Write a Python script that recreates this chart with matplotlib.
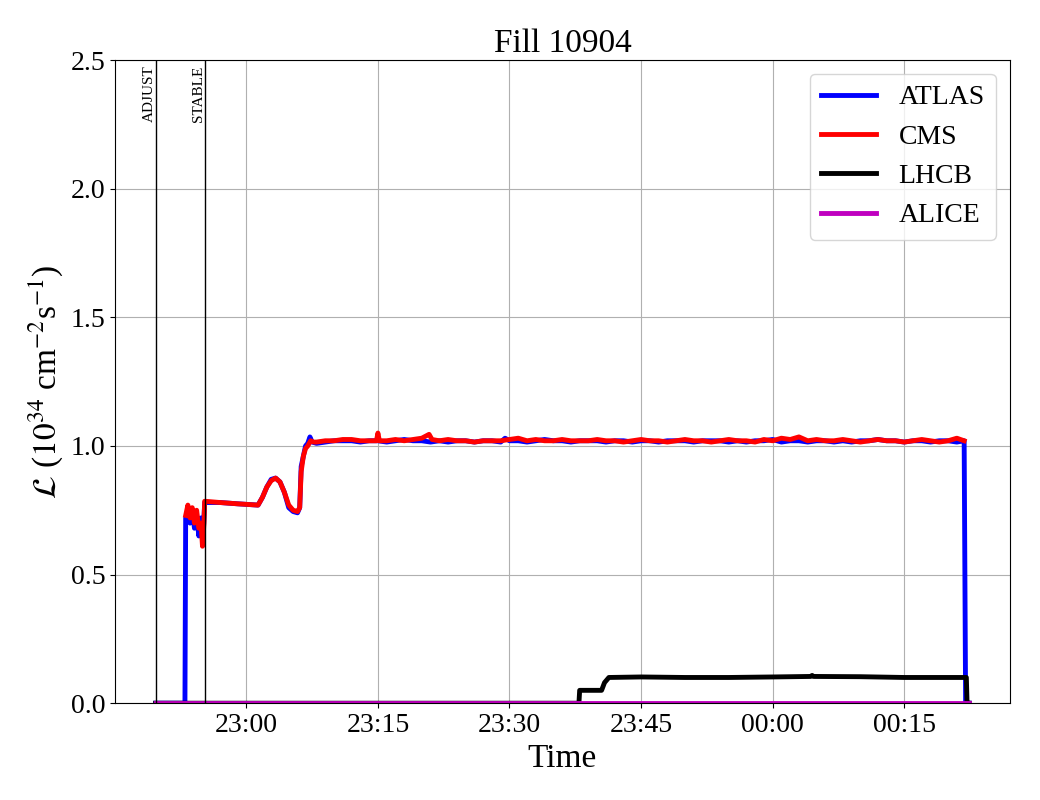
import matplotlib
matplotlib.use("Agg")
import matplotlib.pyplot as plt
import matplotlib.dates as mdates
import pandas as pd

# Fill 10904 luminosity
DAY = "2025-07-20 "

ADJUST_TIME = "22:49:40"
STABLE_TIME = "22:55:15"

atlas_t = ["22:49:40", "22:53:00", "22:53:05", "22:53:20", "22:53:35", "22:53:50", "22:54:05",
           "22:54:20", "22:54:35", "22:54:50", "22:55:05", "22:55:15", "22:57:00", "22:59:00",
           "23:01:20", "23:01:50", "23:02:20", "23:02:50", "23:03:20", "23:03:50", "23:04:20",
           "23:04:50", "23:05:20", "23:05:50", "23:06:05", "23:06:15", "23:06:30", "23:06:45",
           "23:07:00", "23:07:15", "23:07:30", "23:08:00", "23:09:00", "23:10:00", "23:11:00",
           "23:12:00", "23:13:00", "23:14:00", "23:15:00", "23:16:00", "23:17:00", "23:18:00",
           "23:19:00", "23:20:00", "23:21:00", "23:22:00", "23:23:00", "23:24:00", "23:25:00",
           "23:26:00", "23:27:00", "23:28:00", "23:29:00", "23:29:30", "23:30:00", "23:31:00",
           "23:32:00", "23:33:00", "23:34:00", "23:35:00", "23:36:00", "23:37:00", "23:38:00",
           "23:39:00", "23:40:00", "23:41:00", "23:42:00", "23:43:00", "23:44:00", "23:45:00",
           "23:46:00", "23:47:00", "23:48:00", "23:49:00", "23:50:00", "23:51:00", "23:52:00",
           "23:53:00", "23:54:00", "23:55:00", "23:56:00", "23:57:00", "23:58:00", "23:59:00",
           "00:00:00", "00:01:00", "00:02:00", "00:03:00", "00:04:00", "00:05:00", "00:06:00",
           "00:07:00", "00:08:00", "00:09:00", "00:10:00", "00:11:00", "00:12:00", "00:13:00",
           "00:14:00", "00:15:00", "00:16:00", "00:17:00", "00:18:00", "00:19:00", "00:20:00",
           "00:21:00", "00:21:50", "00:22:00", "00:22:25"]
atlas_v = [0.0, 0.0, 0.72, 0.74, 0.70, 0.75, 0.68, 0.73, 0.65, 0.72, 0.66, 0.78, 0.78, 0.775,
           0.77, 0.80, 0.84, 0.87, 0.875, 0.86, 0.82, 0.76, 0.745, 0.74, 0.76, 0.92, 0.96, 1.00,
           1.01, 1.035, 1.015, 1.01, 1.015, 1.02, 1.02, 1.02, 1.015, 1.02, 1.02, 1.015, 1.02,
           1.025, 1.02, 1.02, 1.015, 1.02, 1.015, 1.02, 1.02, 1.015, 1.02, 1.02, 1.015, 1.03,
           1.02, 1.02, 1.015, 1.02, 1.025, 1.02, 1.02, 1.015, 1.02, 1.02, 1.02, 1.015, 1.02,
           1.02, 1.015, 1.02, 1.02, 1.015, 1.02, 1.02, 1.02, 1.015, 1.02, 1.02, 1.02, 1.015,
           1.02, 1.015, 1.02, 1.02, 1.025, 1.015, 1.02, 1.02, 1.015, 1.02, 1.02, 1.015, 1.02,
           1.015, 1.02, 1.02, 1.025, 1.02, 1.02, 1.015, 1.02, 1.02, 1.015, 1.02, 1.02, 1.015,
           1.02, 0.0, 0.0]

cms_t = ["22:53:05", "22:53:20", "22:53:35", "22:53:50", "22:54:05", "22:54:20", "22:54:35",
         "22:54:50", "22:55:00", "22:55:10", "22:55:15", "22:57:00", "22:59:00", "23:01:20",
         "23:01:50", "23:02:20", "23:02:50", "23:03:20", "23:03:50", "23:04:20", "23:04:50",
         "23:05:20", "23:05:50", "23:06:05", "23:06:15", "23:06:30", "23:06:45", "23:07:00",
         "23:07:20", "23:07:40", "23:08:00", "23:09:00", "23:10:00", "23:11:00", "23:12:00",
         "23:13:00", "23:14:00", "23:14:50", "23:15:00", "23:15:10", "23:16:00", "23:17:00",
         "23:18:00", "23:19:00", "23:20:00", "23:20:50", "23:21:10", "23:22:00", "23:23:00",
         "23:24:00", "23:25:00", "23:26:00", "23:27:00", "23:28:00", "23:29:00", "23:30:00",
         "23:31:00", "23:32:00", "23:33:00", "23:34:00", "23:35:00", "23:36:00", "23:37:00",
         "23:38:00", "23:39:00", "23:40:00", "23:41:00", "23:42:00", "23:43:00", "23:44:00",
         "23:45:00", "23:46:00", "23:47:00", "23:48:00", "23:49:00", "23:50:00", "23:51:00",
         "23:52:00", "23:53:00", "23:54:00", "23:55:00", "23:56:00", "23:57:00", "23:58:00",
         "23:59:00", "00:00:00", "00:01:00", "00:02:00", "00:03:00", "00:04:00", "00:05:00",
         "00:06:00", "00:07:00", "00:08:00", "00:09:00", "00:10:00", "00:11:00", "00:12:00",
         "00:13:00", "00:14:00", "00:15:00", "00:16:00", "00:17:00", "00:18:00", "00:19:00",
         "00:20:00", "00:21:00", "00:21:50"]
cms_v = [0.73, 0.77, 0.72, 0.76, 0.70, 0.75, 0.68, 0.70, 0.61, 0.70, 0.785, 0.78, 0.775, 0.77,
         0.80, 0.84, 0.865, 0.875, 0.86, 0.82, 0.77, 0.75, 0.745, 0.76, 0.90, 0.96, 0.99, 1.00,
         1.02, 1.015, 1.015, 1.02, 1.02, 1.025, 1.025, 1.02, 1.02, 1.02, 1.05, 1.02, 1.02, 1.025,
         1.02, 1.025, 1.03, 1.045, 1.025, 1.02, 1.025, 1.02, 1.02, 1.015, 1.02, 1.02, 1.02,
         1.025, 1.03, 1.02, 1.025, 1.02, 1.02, 1.025, 1.02, 1.02, 1.02, 1.025, 1.02, 1.02,
         1.015, 1.02, 1.025, 1.02, 1.02, 1.015, 1.02, 1.025, 1.02, 1.02, 1.015, 1.02, 1.025,
         1.02, 1.02, 1.015, 1.025, 1.02, 1.03, 1.025, 1.035, 1.02, 1.025, 1.02, 1.02, 1.025,
         1.02, 1.015, 1.02, 1.025, 1.02, 1.02, 1.015, 1.02, 1.025, 1.02, 1.015, 1.02, 1.03,
         1.02]

lhcb_t = ["22:49:40", "23:37:55", "23:38:00", "23:40:30", "23:40:50", "23:41:20", "23:45:00",
          "23:50:00", "23:55:00", "00:00:00", "00:04:20", "00:04:30", "00:04:40", "00:10:00",
          "00:15:00", "00:20:00", "00:22:05", "00:22:10", "00:22:25"]
lhcb_v = [0.0, 0.0, 0.05, 0.05, 0.08, 0.10, 0.102, 0.10, 0.10, 0.102, 0.104, 0.108, 0.104,
          0.103, 0.10, 0.10, 0.10, 0.0, 0.0]

alice_t = ["22:49:40", "00:22:25"]
alice_v = [0.0, 0.0]


def to_dt(times):
    out = []
    for t in times:
        d = DAY if t >= "12:00:00" else "2025-07-21 "
        out.append(pd.Timestamp(d + t))
    return out


plt.rcParams['font.family'] = ['Liberation Serif', 'DejaVu Serif']
plt.rcParams['mathtext.fontset'] = 'stix'

fig = plt.figure(figsize=(10.4, 8), dpi=100)
ax = fig.add_axes([0.1106, 0.121, 0.8605, 0.804])

ax.plot(to_dt(atlas_t), atlas_v, color='b', lw=3.5, label='ATLAS')
ax.plot(to_dt(cms_t), cms_v, color='r', lw=3.5, label='CMS')
ax.plot(to_dt(lhcb_t), lhcb_v, color='k', lw=3.5, label='LHCB')
ax.plot(to_dt(alice_t), alice_v, color='m', lw=3.5, label='ALICE')

for t, name in [(ADJUST_TIME, 'ADJUST'), (STABLE_TIME, 'STABLE')]:
    x = to_dt([t])[0]
    ax.axvline(x, color='k', lw=1)
    ax.text(x, 2.48, name, rotation=90, ha='right', va='top', fontsize=11)

ax.set_ylim(0, 2.5)
ax.xaxis.set_major_locator(mdates.MinuteLocator(byminute=[0, 15, 30, 45]))
ax.xaxis.set_major_formatter(mdates.DateFormatter('%H:%M'))
ax.tick_params(labelsize=20)
ax.grid(True)

ax.set_title('Fill 10904', fontsize=24)
ax.set_xlabel('Time', fontsize=24)
ax.set_ylabel(r'$\mathcal{L}$ ($10^{34}$ cm$^{-2}$s$^{-1}$)', fontsize=24)
ax.legend(loc='upper right', fontsize=20)

plt.savefig('out.png')
